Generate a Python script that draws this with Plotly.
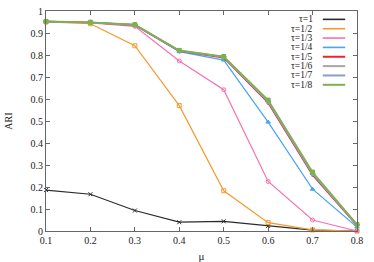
import plotly.graph_objects as go

mu = [0.1, 0.2, 0.3, 0.4, 0.5, 0.6, 0.7, 0.8]
names = ["τ=1", "τ=1/2", "τ=1/3", "τ=1/4", "τ=1/5", "τ=1/6", "τ=1/7", "τ=1/8"]
tau1 = [0.186, 0.167, 0.093, 0.040, 0.044, 0.023, 0.004, 0.0]
tau2 = [0.950, 0.942, 0.842, 0.570, 0.183, 0.038, 0.005, 0.0]
tau3 = [0.951, 0.946, 0.930, 0.773, 0.642, 0.225, 0.050, 0.0]
tau4 = [0.952, 0.948, 0.935, 0.815, 0.777, 0.495, 0.190, 0.018]
tau5 = [0.952, 0.948, 0.936, 0.818, 0.788, 0.583, 0.255, 0.025]
tau6 = [0.952, 0.948, 0.937, 0.820, 0.792, 0.590, 0.262, 0.028]
tau7 = [0.952, 0.948, 0.937, 0.819, 0.791, 0.588, 0.260, 0.027]
tau8 = [0.953, 0.949, 0.938, 0.821, 0.793, 0.595, 0.268, 0.030]
series = [tau1, tau2, tau3, tau4, tau5, tau6, tau7, tau8]
y_ticks = [0, 0.1, 0.2, 0.3, 0.4, 0.5, 0.6, 0.7, 0.8, 0.9, 1]
y_ticklabels = ["0", "0.1", "0.2", "0.3", "0.4", "0.5", "0.6", "0.7", "0.8", "0.9", "1"]

colors = ["#2b2b2b", "#f39a2e", "#f472b0", "#4aa3f5", "#e8272c", "#a9a69e", "#8aa0c2", "#7db24a"]
symbols = ["x-thin-open", "square-open", "circle-open", "triangle-up", "triangle-down", "circle", "diamond", "square"]
widths = [1.2, 1.2, 1.2, 1.2, 1.6, 1.6, 1.6, 1.6]

fig = go.Figure()
for n, s, c, sym, w in zip(names, series, colors, symbols, widths):
    fig.add_trace(go.Scatter(
        x=mu, y=s, name=n, mode="lines+markers",
        line=dict(color=c, width=w),
        marker=dict(symbol=sym, size=4, color=c, line=dict(color=c, width=1)),
        cliponaxis=False, showlegend=False))

font = "Liberation Serif, Times New Roman, serif"
# gnuplot-style legend (text left of line sample)
y0 = 0.962
dy = 9.35 / 220
for i, (n, c, w) in enumerate(zip(names, colors, widths)):
    yy = y0 - i * dy
    fig.add_annotation(x=0.866, y=yy, xref="paper", yref="paper", text=n,
                       showarrow=False, xanchor="right", yanchor="middle",
                       font=dict(family=font, size=9.5, color="#222"))
    fig.add_shape(type="line", xref="paper", yref="paper",
                  x0=0.89, x1=0.962, y0=yy, y1=yy, line=dict(color=c, width=w + 0.4))

axis_common = dict(showgrid=False, zeroline=False, showline=True, linecolor="#666",
                   linewidth=1, mirror="ticks", ticks="inside", ticklen=4, tickcolor="#666",
                   automargin=False,
                   tickfont=dict(family=font, size=10, color="#222"))
fig.update_xaxes(range=[0.1, 0.8], tickvals=mu, ticktext=[f"{m:.1f}" for m in mu],
                 title=dict(text="μ", font=dict(family=font, size=11, color="#222"), standoff=11),
                 **axis_common)
fig.update_yaxes(range=[0, 1], tickvals=y_ticks, ticktext=y_ticklabels,
                 title=dict(text="ARI", font=dict(family=font, size=10, color="#222"), standoff=16),
                 **axis_common)
fig.update_layout(width=374, height=262, margin=dict(l=46, r=17, t=11, b=31),
                  plot_bgcolor="white", paper_bgcolor="white")
fig.write_html("out.html", config={"displayModeBar": False},
               post_script="document.body.style.margin='0';")
